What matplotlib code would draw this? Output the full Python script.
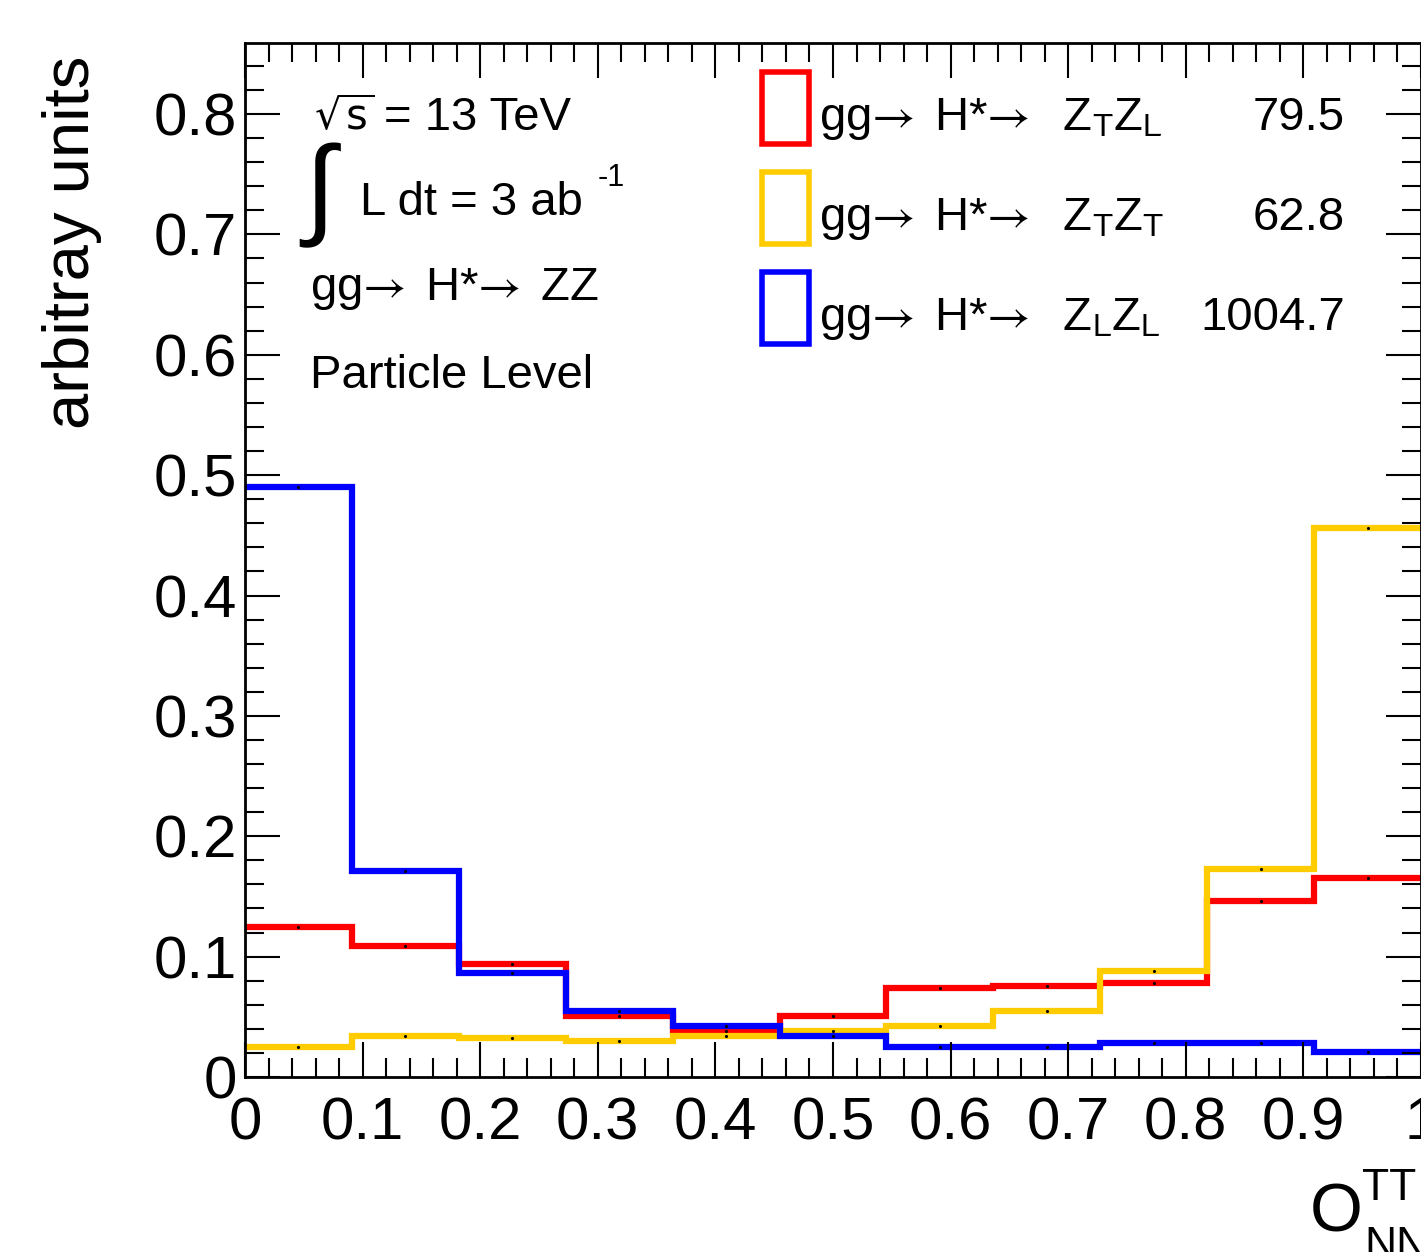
import matplotlib
matplotlib.use('Agg')
import matplotlib.pyplot as plt
import numpy as np
from matplotlib.patches import Rectangle

plt.rcParams['font.family'] = ['Liberation Sans', 'DejaVu Sans']
plt.rcParams['mathtext.fontset'] = 'stixsans'

# 11 bins between 0 and 1
edges = np.linspace(0, 1, 12)
zt_zl = [0.125, 0.109, 0.094, 0.051, 0.038, 0.051, 0.074, 0.076, 0.078, 0.146, 0.165]
zt_zt = [0.025, 0.034, 0.032, 0.030, 0.034, 0.038, 0.042, 0.055, 0.088, 0.173, 0.456]
zl_zl = [0.490, 0.171, 0.086, 0.055, 0.042, 0.034, 0.025, 0.025, 0.028, 0.028, 0.021]

arrow = r'$→\,$'
labels = ['gg' + arrow + ' H*' + arrow + r'  Z$_\mathrm{T}$Z$_\mathrm{L}$',
          'gg' + arrow + ' H*' + arrow + r'  Z$_\mathrm{T}$Z$_\mathrm{T}$',
          'gg' + arrow + ' H*' + arrow + r'  Z$_\mathrm{L}$Z$_\mathrm{L}$']
yields = ['79.5', '62.8', '1004.7']
colors = ['#ff0000', '#ffcc00', '#0000ff']

W, H = 1421, 1252
fig = plt.figure(figsize=(W / 100, H / 100), dpi=100)


def fx(x):
    return x / W


def fy(y):
    return 1 - y / H


ax = fig.add_axes([fx(245), fy(1077), fx(1421) - fx(245), fy(43) - fy(1077)])

centers = 0.5 * (edges[1:] + edges[:-1])
for vals, c in zip([zt_zl, zt_zt, zl_zl], colors):
    ax.stairs(vals, edges, baseline=None, color=c, lw=4.5)
    ax.plot(centers, vals, 'k.', ms=2.5, zorder=5)

ax.set_xlim(0, 1)
ax.set_ylim(0, 0.859)

ax.set_xticks(np.arange(0, 1.01, 0.1))
ax.set_xticklabels(['0', '0.1', '0.2', '0.3', '0.4', '0.5', '0.6', '0.7', '0.8', '0.9', '1'])
ax.set_xticks(np.arange(0, 1.001, 0.02), minor=True)
ax.set_yticks(np.arange(0, 0.81, 0.1))
ax.set_yticklabels(['0', '0.1', '0.2', '0.3', '0.4', '0.5', '0.6', '0.7', '0.8'])
ax.set_yticks(np.arange(0, 0.86, 0.02), minor=True)

ax.tick_params(which='both', direction='in', top=True, right=True, width=1.5, labelsize=43)
ax.tick_params(which='major', length=25)
ax.tick_params(which='minor', length=14)
ax.tick_params(axis='x', pad=14)
ax.tick_params(axis='y', pad=6)
for s in ax.spines.values():
    s.set_linewidth(2)

# y axis title, aligned to the top of the axis like ROOT
fig.text(fx(72), fy(56), 'arbitray units', rotation=90, ha='center', va='top', fontsize=47)

# x axis title (cut at the right edge)
fig.text(fx(1310), fy(1232), 'O', fontsize=49, ha='left', va='baseline')
fig.text(fx(1362), fy(1200), 'TT', fontsize=32, ha='left', va='baseline')
fig.text(fx(1364), fy(1258), 'NN', fontsize=32, ha='left', va='baseline')

# info block
fig.text(fx(314), fy(130), r'$\sqrt{\mathrm{s}}$', fontsize=30, ha='left', va='baseline',
         math_fontfamily='dejavusans')
fig.text(fx(384), fy(130), '= 13 TeV', fontsize=34, ha='left', va='baseline')
fig.text(fx(304), fy(224), '∫', fontsize=80, ha='left', va='baseline')
fig.text(fx(360), fy(215), 'L dt = 3 ab', fontsize=34, ha='left', va='baseline')
fig.text(fx(598), fy(186), '-1', fontsize=22, ha='left', va='baseline')
fig.text(fx(310), fy(300), 'gg' + arrow + ' H*' + arrow + ' ZZ', fontsize=34, ha='left', va='baseline')
fig.text(fx(310), fy(388), 'Particle Level', fontsize=34, ha='left', va='baseline')

# legend
for i, (lab, val, c) in enumerate(zip(labels, yields, colors)):
    top = 72 + 100 * i
    fig.add_artist(Rectangle((fx(762), fy(top + 72)), fx(47), fy(top) - fy(top + 72),
                             transform=fig.transFigure, fill=False, edgecolor=c, lw=4))
    fig.text(fx(819), fy(130 + 100 * i), lab, fontsize=34, ha='left', va='baseline')
    fig.text(fx(1345), fy(130 + 100 * i), val, fontsize=34, ha='right', va='baseline')

fig.savefig('out.png', dpi=100)
